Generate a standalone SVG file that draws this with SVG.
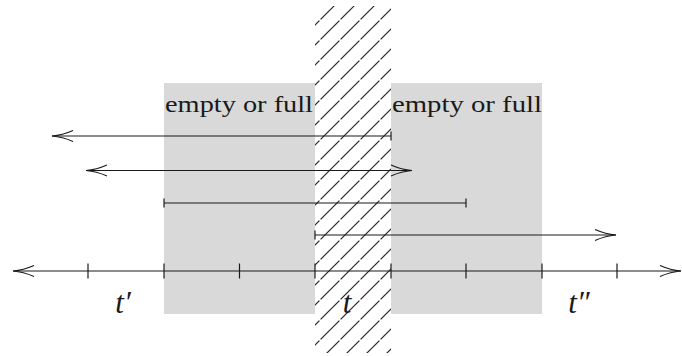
<svg xmlns="http://www.w3.org/2000/svg" width="682" height="356" viewBox="0 0 682 356">
<style>
.ln{stroke:#1a1a1a;stroke-width:1.2;fill:none}
.tk{stroke:#1a1a1a;stroke-width:1.2}
.lbl{font-family:"Liberation Serif","Times New Roman",serif;font-size:24px;fill:#1a1a1a}
.tl{font-family:"Liberation Serif","Times New Roman",serif;font-style:italic;font-size:31px;fill:#1a1a1a;text-anchor:middle}
.zone{fill:#d9d9d9}
</style>
<defs>
<marker id="to" markerUnits="userSpaceOnUse" markerWidth="26" markerHeight="14" viewBox="-23 -7 26 14" refX="0" refY="0" orient="auto-start-reverse">
<path d="M -21 -5.5 C -13 -2 -5 -0.4 0 0 C -5 0.4 -13 2 -21 5.5" fill="none" stroke="#1a1a1a" stroke-width="1.2"/>
</marker>
<pattern id="hatch" patternUnits="userSpaceOnUse" width="20" height="20">
<line x1="0.6" y1="19.4" x2="19.4" y2="0.6" stroke="#2a2a2a" stroke-width="1.3"/>
</pattern>
</defs>
<rect width="682" height="356" fill="#ffffff"/>
<g id="zone-left">
<rect class="zone" x="164" y="83" width="151" height="231"/>
<text class="lbl" x="165" y="112" textLength="148" lengthAdjust="spacingAndGlyphs">empty or full</text>
</g>
<g id="zone-right">
<rect class="zone" x="391" y="83" width="151" height="231"/>
<text class="lbl" x="392" y="112" textLength="150" lengthAdjust="spacingAndGlyphs">empty or full</text>
</g>
<g id="zone-t">
<rect x="315" y="6" width="76" height="347" fill="url(#hatch)"/>
</g>
<g id="connectors">
<line class="ln" x1="391" y1="136" x2="52" y2="136" marker-end="url(#to)"/>
<line class="tk" x1="391" y1="131.5" x2="391" y2="140.5"/>
<line class="ln" x1="86" y1="170.5" x2="412" y2="170.5" marker-start="url(#to)" marker-end="url(#to)"/>
<line class="ln" x1="164" y1="203" x2="466" y2="203"/>
<line class="tk" x1="164" y1="198.5" x2="164" y2="207.5"/>
<line class="tk" x1="466" y1="198.5" x2="466" y2="207.5"/>
<line class="ln" x1="315" y1="235" x2="616" y2="235" marker-end="url(#to)"/>
<line class="tk" x1="315" y1="230.5" x2="315" y2="239.5"/>
</g>
<g id="axis">
<line class="ln" x1="13" y1="271" x2="681" y2="271" marker-start="url(#to)" marker-end="url(#to)"/>
<g class="tk">
<line x1="88" y1="263.5" x2="88" y2="278.5"/>
<line x1="164" y1="263.5" x2="164" y2="278.5"/>
<line x1="239.5" y1="263.5" x2="239.5" y2="278.5"/>
<line x1="315" y1="263.5" x2="315" y2="278.5"/>
<line x1="391" y1="263.5" x2="391" y2="278.5"/>
<line x1="466" y1="263.5" x2="466" y2="278.5"/>
<line x1="542" y1="263.5" x2="542" y2="278.5"/>
<line x1="617" y1="263.5" x2="617" y2="278.5"/>
</g>
</g>
<g id="labels">
<text class="tl" x="123" y="313">t′</text>
<text class="tl" x="347" y="313">t</text>
<text class="tl" x="579" y="313">t″</text>
</g>
</svg>
